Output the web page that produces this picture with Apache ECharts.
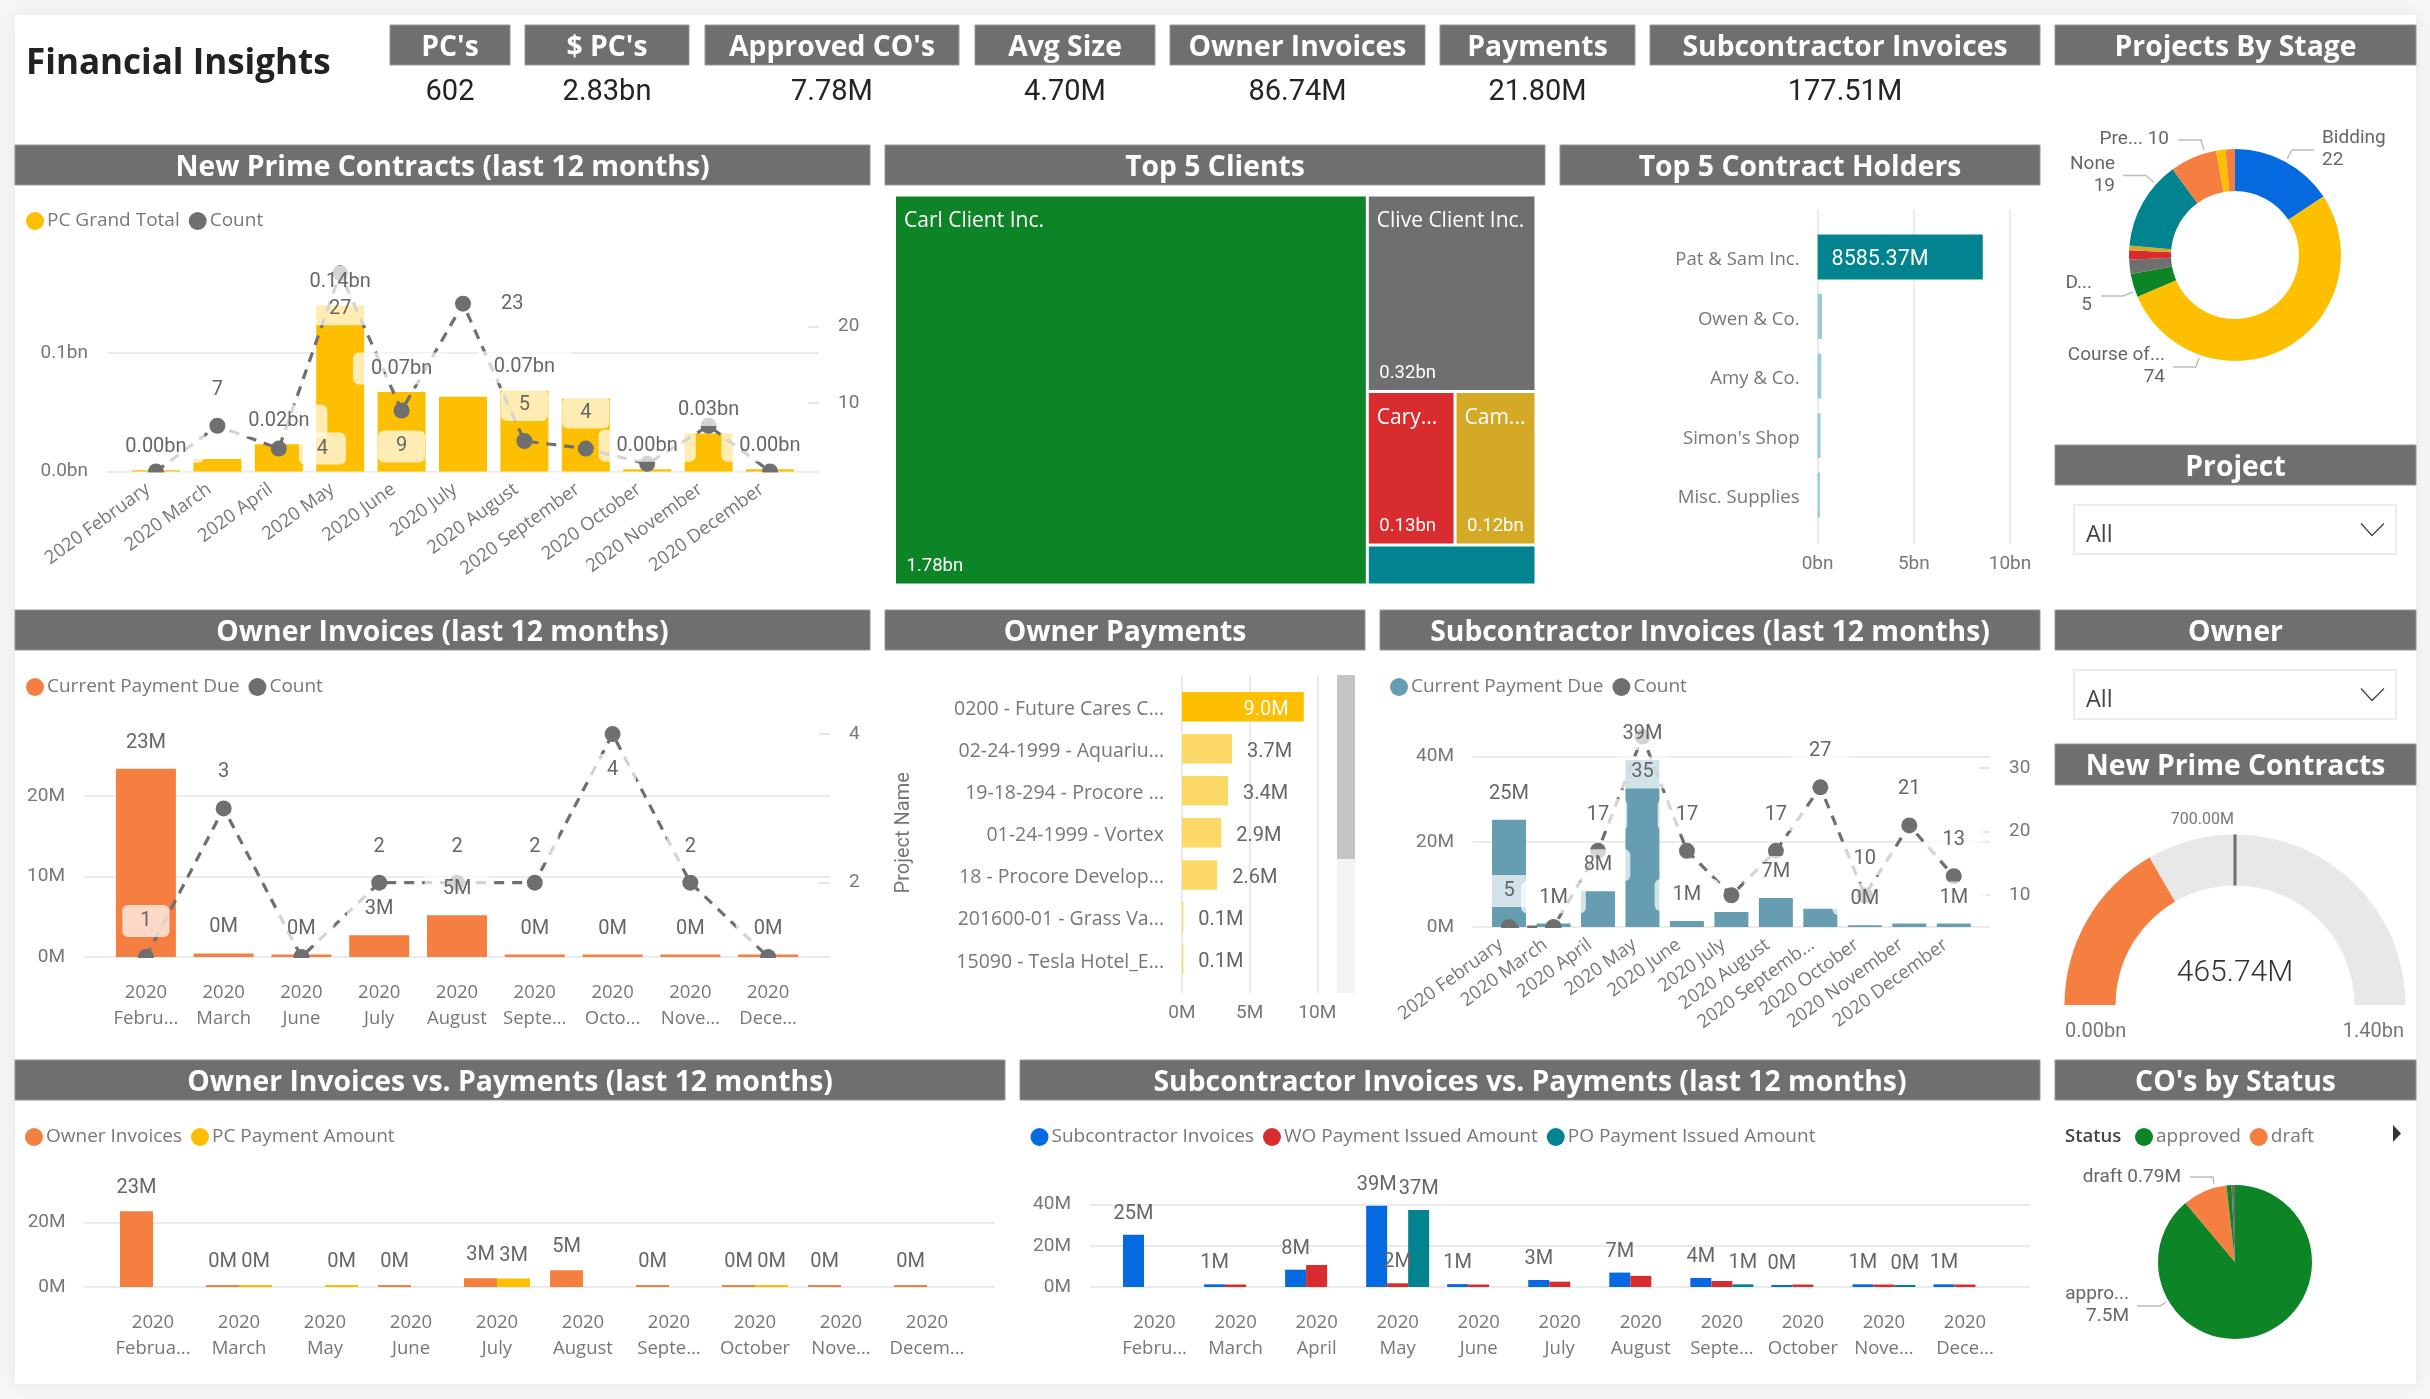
<!DOCTYPE html>
<html>
<head>
<meta charset="UTF-8">
<title>Financial Insights</title>
<script src="https://cdn.jsdelivr.net/npm/echarts@6/dist/echarts.min.js"></script>
<style>
html, body { margin: 0; padding: 0; background: #f6f6f6; }
#card { position: absolute; left: 15px; top: 15px; width: 2401px; height: 1369px; background: #fff; box-shadow: 0 0 14px rgba(0,0,0,.07); }
#main { position: absolute; left: 0; top: 0; width: 2430px; height: 1399px; }
</style>
</head>
<body>
<div id="card"></div>
<div id="main"></div>
<script type="text/javascript">
// --- data ---
var kpiNames = ["PC's", "$ PC's", "Approved CO's", "Avg Size", "Owner Invoices", "Payments", "Subcontractor Invoices"];
var kpiValues = ["602", "2.83bn", "7.78M", "4.70M", "86.74M", "21.80M", "177.51M"];

var primeMonths = ['2020 February', '2020 March', '2020 April', '2020 May', '2020 June', '2020 July', '2020 August', '2020 September', '2020 October', '2020 November', '2020 December'];
var primeTotal = [0.001, 0.0106, 0.023, 0.14, 0.067, 0.063, 0.068, 0.0615, 0.002, 0.032, 0.002];
var primeCount = [1, 7, 4, 27, 9, 23, 5, 4, 2, 7, 1];

var ownerMonths = ['2020\nFebru...', '2020\nMarch', '2020\nJune', '2020\nJuly', '2020\nAugust', '2020\nSepte...', '2020\nOcto...', '2020\nNove...', '2020\nDece...'];
var ownerDue = [23.4, 0.45, 0.3, 2.7, 5.2, 0.3, 0.3, 0.3, 0.3];
var ownerCount = [1, 3, 1, 2, 2, 2, 4, 2, 1];

var subMonths = ['2020 February', '2020 March', '2020 April', '2020 May', '2020 June', '2020 July', '2020 August', '2020 Septemb...', '2020 October', '2020 November', '2020 December'];
var subDue = [25.2, 0.8, 8.4, 39.2, 1.4, 3.5, 6.8, 4.3, 0.4, 0.8, 0.8];
var subCount = [5, 5, 17, 35, 17, 10, 17, 27, 10, 21, 13];

var ovMonths = ['2020\nFebrua...', '2020\nMarch', '2020\nMay', '2020\nJune', '2020\nJuly', '2020\nAugust', '2020\nSepte...', '2020\nOctober', '2020\nNove...', '2020\nDecem...'];
var ovInvoices = [23.4, 0.35, null, 0.35, 2.7, 5.2, 0.35, 0.35, 0.35, 0.35];
var ovPayments = [null, 0.35, 0.35, null, 2.6, null, null, 0.35, null, null];

var svMonths = ['2020\nFebru...', '2020\nMarch', '2020\nApril', '2020\nMay', '2020\nJune', '2020\nJuly', '2020\nAugust', '2020\nSepte...', '2020\nOctober', '2020\nNove...', '2020\nDece...'];
var svInvoices = [25.4, 1.3, 8.4, 39.4, 1.4, 3.4, 7, 4.4, 0.4, 1.3, 1.3];
var svWo = [null, 1.2, 10.7, 1.8, 1.2, 2.6, 5.4, 2.9, 1.2, 1.2, 1.2];
var svPo = [null, null, null, 37.4, null, null, null, 1.3, null, 0.4, null];

var clientNames = ['Carl Client Inc.', 'Clive Client Inc.', 'Cary...', 'Cam...', ''];
var clientValues = [1.78, 0.32, 0.13, 0.12, 0.065];

var holderNames = ['Pat & Sam Inc.', 'Owen & Co.', 'Amy & Co.', "Simon's Shop", 'Misc. Supplies'];
var holderValues = [8.58537, 0.23, 0.19, 0.15, 0.12];

var paymentNames = ['0200 - Future Cares C...', '02-24-1999 - Aquariu...', '19-18-294 - Procore ...', '01-24-1999 - Vortex', '18 - Procore Develop...', '201600-01 - Grass Va...', '15090 - Tesla Hotel_E...'];
var paymentValues = [9.0, 3.7, 3.4, 2.9, 2.6, 0.1, 0.1];

var stageNames = ['Bidding', 'Course of...', 'D...', 'Stage 4', 'Stage 5', 'Stage 6', 'None', 'Pre...', 'Stage 9', 'Stage 10'];
var stageValues = [22, 74, 5, 3, 2, 1, 19, 10, 2, 2];

var statusNames = ['approved', 'draft', 'other', 'blank'];
var statusValues = [7.5, 0.79, 0.09, 0.06];

var gaugeValue = 465.74;
var gaugeTarget = 700;
var gaugeMax = 1400;

// --- where labels go, by category position ---
var primeTotalLabels = [1, 0, 1, 1, 1, 0, 1, 0, 1, 1, 1];
var primeCountPos = [null, 'top', 'right', 'bottom', 'bottom', 'right', 'top', 'top', null, null, null];
var ownerCountPos = ['top', 'top', null, 'top', 'top', 'top', 'bottom', 'top', null];
var subDueLabels = [1, 1, 1, 1, 1, 0, 1, 0, 1, 0, 1];
var subCountPos = ['top', null, 'top', 'bottom', 'top', null, 'top', 'top', 'top', 'top', 'top'];
var svWoLabels = [0, 0, 0, 1, 0, 0, 0, 0, 0, 0, 0];

// pie callouts: label anchor and leader line on the page
var stageCallouts = {
	0: { x: 2322, y: 149, align: 'left', line: [[2287, 159], [2292, 150], [2314, 150]] },
	1: { x: 2165, y: 366, align: 'right', line: [[2199, 358], [2196, 367], [2173, 367]] },
	2: { x: 2092, y: 294, align: 'right', line: [[2133, 292], [2123, 296], [2101, 296]] },
	6: { x: 2115, y: 175.5, align: 'right', line: [[2154, 182.5], [2146, 175.5], [2123, 175.5]] },
	7: { x: 2169, y: 139, align: 'right', line: [[2204, 150], [2201, 140], [2178, 140]] }
};
var statusCallouts = {
	0: { x: 2129, y: 1305, align: 'right', line: [[2166, 1302], [2160, 1306], [2137, 1306]] },
	1: { x: 2181, y: 1177, align: 'right', line: [[2214, 1184], [2213, 1177], [2190, 1177]] }
};

// --- colours ---
var C_YELLOW = '#fdbf00', C_ORANGE = '#f57f40', C_SLATE = '#669db1', C_GRAY = '#6f6f6f';
var C_BLUE = '#0569e0', C_RED = '#d92c2f', C_TEAL = '#018390', C_GREEN = '#0d8526', C_GOLD = '#d4a925';
var TXT = '#777777', LBL = '#666666', GRID = '#ebebeb';
var NUM_FONT = 'Roboto', TXT_FONT = '"Open Sans"';

var option = {
	animation: false,
	grid: [], xAxis: [], yAxis: [], legend: [], series: [],
	graphic: { elements: [] }
};
var gfx = option.graphic.elements;

function text(x, y, str, size, color, font, align, weight) {
	gfx.push({ type: 'text', x: x, y: y, silent: true, z: 5, style: {
		text: str, fontSize: size, fill: color, fontFamily: font || NUM_FONT,
		fontWeight: weight || 'normal', align: align || 'center', verticalAlign: 'middle' } });
}

function band(x0, y0, x1, y1, title) {
	gfx.push({ type: 'rect', silent: true, shape: { x: x0, y: y0, width: x1 - x0, height: y1 - y0 },
		style: { fill: C_GRAY, stroke: '#969696', lineWidth: 1 } });
	text((x0 + x1) / 2, (y0 + y1) / 2 + 2.5, title, 28.3, '#fff', TXT_FONT, 'center', 'bold');
}

function slicer(y0, y1) {
	gfx.push({ type: 'rect', silent: true, shape: { x: 2074, y: y0, width: 322, height: y1 - y0 },
		style: { fill: '#fff', stroke: '#ececec', lineWidth: 2 } });
	text(2086, (y0 + y1) / 2 + 6, 'All', 23.5, '#444', TXT_FONT, 'left');
	var m = (y0 + y1) / 2 - 1;
	gfx.push({ type: 'polyline', silent: true, shape: { points: [[2361, m - 5], [2372, m + 7], [2384, m - 5]] },
		style: { fill: null, stroke: '#444', lineWidth: 1.3 } });
}

function addLegend(left, y, items) {
	option.legend.push({
		left: left, top: y - 8.5, padding: 0, itemWidth: 18, itemHeight: 18, itemGap: 9, icon: 'circle', selectedMode: false,
		textStyle: { fontFamily: TXT_FONT, fontSize: 19, color: TXT, padding: [0, 0, 0, -2] },
		data: items.map(function (it) { return { name: it[0], icon: 'circle', itemStyle: { color: it[1] } }; })
	});
}

function washLabel(fmt, dist) {
	return { show: true, position: 'top', distance: dist, formatter: fmt, fontFamily: NUM_FONT, fontSize: 20, color: LBL,
		lineHeight: 24, padding: [4, 18], backgroundColor: 'rgba(255,255,255,0.7)', borderRadius: 6 };
}

function plainLabel(fmt, dist) {
	return { show: true, position: 'top', distance: dist, formatter: fmt, fontFamily: NUM_FONT, fontSize: 20, color: LBL, lineHeight: 24 };
}

function labelledData(values, shown) {
	return values.map(function (v, i) {
		if (v === null) return null;
		return { value: v, label: { show: !shown || !!shown[i] } };
	});
}

// Two grids per chart: the wide one carries gridlines and value axes,
// the narrower one holds the bands, as the gridlines overhang the first and last band.
function addCombo(c) {
	var wide = option.grid.length, inner = wide + 1, h = c.base - c.top;
	option.grid.push({ left: c.left, top: c.top, width: c.right - c.left, height: h });
	option.grid.push({ left: c.bandLeft, top: c.top, width: c.bandRight - c.bandLeft, height: h });

	option.xAxis.push({ gridIndex: wide, type: 'value', show: false, min: 0, max: 1 });
	var xIndex = option.xAxis.length;
	option.xAxis.push({ gridIndex: inner, type: 'category', data: c.cats, z: 4,
		axisLine: { show: false }, axisTick: { show: false },
		axisLabel: { interval: 0, rotate: c.rotate || 0, margin: c.rotate ? 10 : 23, lineHeight: 26,
			padding: c.rotate ? [0, 10, 0, 0] : 0,
			fontFamily: TXT_FONT, fontSize: 18.5, color: TXT, hideOverlap: false, overflow: 'none' } });

	option.yAxis.push({ gridIndex: wide, type: 'value', min: 0, max: c.max,
		axisLine: { show: false },
		axisTick: { show: false, customValues: c.ticks },
		splitLine: { show: true, lineStyle: { color: GRID, width: 2 } },
		axisLabel: { customValues: c.ticks, margin: 19, formatter: c.tickFmt, fontFamily: NUM_FONT, fontSize: 19, color: TXT } });
	var yIndex = option.yAxis.length;
	option.yAxis.push({ gridIndex: inner, type: 'value', show: false, min: 0, max: c.max, splitLine: { show: false } });

	c.bars.forEach(function (s) {
		option.series.push({ type: 'bar', name: s.name, xAxisIndex: xIndex, yAxisIndex: yIndex, z: 2,
			barWidth: c.barWidth, barGap: c.count ? '-100%' : 0, barMinHeight: c.minHeight || 0,
			itemStyle: { color: s.color },
			label: c.count ? { show: false } : plainLabel(c.labelFmt, c.labelDist),
			data: c.count ? s.data : labelledData(s.data, s.shown) });
		if (c.count) {
			// the bar labels sit on top of the count line, so they get a see-through series above it
			option.series.push({ type: 'bar', xAxisIndex: xIndex, yAxisIndex: yIndex, z: 5, silent: true,
				barWidth: c.barWidth, barGap: '-100%',
				itemStyle: { color: 'rgba(0,0,0,0)' },
				label: washLabel(c.labelFmt, c.labelDist),
				data: labelledData(s.data, s.shown) });
		}
	});

	if (c.count) {
		option.yAxis.push({ gridIndex: wide, type: 'value', position: 'right', min: c.countMin, max: c.countMax,
			axisLine: { show: false }, splitLine: { show: false },
			axisTick: { show: true, inside: true, length: 11, customValues: c.countTicks, lineStyle: { color: '#e6e6e6', width: 2 } },
			axisLabel: { customValues: c.countTicks, margin: 19, fontFamily: NUM_FONT, fontSize: 19, color: TXT } });
		var y2Index = option.yAxis.length;
		option.yAxis.push({ gridIndex: inner, type: 'value', show: false, min: c.countMin, max: c.countMax, splitLine: { show: false } });
		option.series.push({ type: 'line', name: 'Count', xAxisIndex: xIndex, yAxisIndex: y2Index, z: 2,
			symbol: 'circle', symbolSize: 16, showAllSymbol: true,
			itemStyle: { color: C_GRAY },
			lineStyle: { color: C_GRAY, width: 3.2, type: [10, 8] },
			data: c.count.map(function (v, i) {
				var pos = c.countPos[i];
				var lab = washLabel('{c}', 12);
				lab.show = !!pos;
				lab.position = pos || 'top';
				return { value: v, label: lab };
			}) });
		// markers stop at the baseline in the original
		gfx.push({ type: 'rect', silent: true, z: 3, shape: { x: c.bandLeft, y: c.base + 1, width: c.bandRight - c.bandLeft, height: 9 },
			style: { fill: '#fff' } });
	}
}

function addHBar(c) {
	var wide = option.grid.length, inner = wide + 1;
	option.grid.push({ left: c.left, top: c.top, width: c.right - c.left, height: c.bottom - c.top });
	option.grid.push({ left: c.left, top: c.bandTop, width: c.right - c.left, height: c.bandBottom - c.bandTop });
	option.yAxis.push({ gridIndex: wide, type: 'value', show: false, min: 0, max: 1 });
	option.xAxis.push({ gridIndex: wide, type: 'value', min: 0, max: 10, interval: 5,
		axisLine: { show: false }, axisTick: { show: false },
		splitLine: { show: true, lineStyle: { color: GRID, width: 2 } },
		axisLabel: { margin: 11, formatter: c.tickFmt, fontFamily: NUM_FONT, fontSize: 19, color: TXT } });
	var xIndex = option.xAxis.length;
	option.xAxis.push({ gridIndex: inner, type: 'value', show: false, min: 0, max: 10, splitLine: { show: false } });
	var yIndex = option.yAxis.length;
	option.yAxis.push({ gridIndex: inner, type: 'category', inverse: true, data: c.cats,
		name: c.axisName, nameLocation: 'middle', nameGap: c.nameGap,
		nameTextStyle: { fontFamily: NUM_FONT, fontSize: 20, color: TXT, letterSpacing: 1.5 },
		axisLine: { show: false }, axisTick: { show: false },
		// a short line box hung from the band centre drops the text about 3px, as in the original
		axisLabel: { interval: 0, margin: 18, verticalAlign: 'top', lineHeight: 6, fontFamily: TXT_FONT, fontSize: c.catSize, color: TXT } });
	option.series.push({ type: 'bar', xAxisIndex: xIndex, yAxisIndex: yIndex, barWidth: c.barWidth,
		data: c.values.map(function (v, i) {
			return { value: v, itemStyle: { color: i === 0 ? c.color : c.paleColor }, label: c.label(i) };
		}) });
}

function leaderLines(callouts) {
	Object.keys(callouts).forEach(function (k) {
		gfx.push({ type: 'polyline', silent: true, z: 4, shape: { points: callouts[k].line },
			style: { fill: null, stroke: '#bdbdbd', lineWidth: 1.5 } });
	});
}

function calloutLayout(callouts) {
	return function (p) {
		var c = callouts[p.dataIndex];
		if (c) return { x: c.x, y: c.y, align: c.align, verticalAlign: 'middle' };
	};
}

// --- page furniture ---
text(26, 64, 'Financial Insights', 35, '#222', TXT_FONT, 'left', 'bold');

var kpiSpans = [[390, 510], [525, 689], [705, 959], [975, 1155], [1170, 1425], [1440, 1635], [1650, 2040]];
kpiNames.forEach(function (n, i) {
	band(kpiSpans[i][0], 25, kpiSpans[i][1], 65, n);
	text((kpiSpans[i][0] + kpiSpans[i][1]) / 2, 93, kpiValues[i], 29, '#252423');
});
band(2055, 25, 2416, 65, 'Projects By Stage');
band(15, 145, 870, 185, 'New Prime Contracts (last 12 months)');
band(885, 145, 1545, 185, 'Top 5 Clients');
band(1560, 145, 2040, 185, 'Top 5 Contract Holders');
band(2055, 445, 2416, 485, 'Project');
band(15, 610, 870, 650, 'Owner Invoices (last 12 months)');
band(885, 610, 1365, 650, 'Owner Payments');
band(1380, 610, 2040, 650, 'Subcontractor Invoices (last 12 months)');
band(2055, 610, 2416, 650, 'Owner');
band(2055, 744, 2416, 785, 'New Prime Contracts');
band(15, 1060, 1005, 1100, 'Owner Invoices vs. Payments (last 12 months)');
band(1020, 1060, 2040, 1100, 'Subcontractor Invoices vs. Payments (last 12 months)');
band(2055, 1060, 2416, 1100, "CO's by Status");
slicer(505, 554);
slicer(670, 719);

// --- combo charts ---
function fmtBn(p) { return p.value.toFixed(2) + 'bn'; }
function fmtM(p) { return p.value.toFixed(0) + 'M'; }
function tickM(v) { return v + 'M'; }

addLegend(26, 220, [['PC Grand Total', C_YELLOW], ['Count', C_GRAY]]);
addCombo({ left: 107, right: 819, bandLeft: 125.3, bandRight: 800.7, top: 234.3, base: 471.5, max: 0.2,
	ticks: [0, 0.1], tickFmt: function (v) { return v.toFixed(1) + 'bn'; },
	cats: primeMonths, rotate: 36, barWidth: 48, labelFmt: fmtBn, labelDist: 7.5,
	bars: [{ name: 'PC Grand Total', color: C_YELLOW, data: primeTotal, shown: primeTotalLabels }],
	count: primeCount, countPos: primeCountPos, countMin: 1, countMax: 32.1, countTicks: [10, 20] });

addLegend(26, 686, [['Current Payment Due', C_ORANGE], ['Count', C_GRAY]]);
addCombo({ left: 84, right: 830, bandLeft: 107, bandRight: 807, top: 715.5, base: 957, max: 30,
	ticks: [0, 10, 20], tickFmt: tickM,
	cats: ownerMonths, barWidth: 60, labelFmt: fmtM, labelDist: 10,
	bars: [{ name: 'Current Payment Due', color: C_ORANGE, data: ownerDue }],
	count: ownerCount, countPos: ownerCountPos, countMin: 1, countMax: 4.25, countTicks: [2, 4] });

addLegend(1390, 686, [['Current Payment Due', C_SLATE], ['Count', C_GRAY]]);
addCombo({ left: 1473, right: 1990, bandLeft: 1486.8, bandRight: 1976, top: 714, base: 927, max: 50,
	ticks: [0, 20, 40], tickFmt: tickM,
	cats: subMonths, rotate: 36, barWidth: 34, labelFmt: fmtM, labelDist: 10,
	bars: [{ name: 'Current Payment Due', color: C_SLATE, data: subDue, shown: subDueLabels }],
	count: subCount, countPos: subCountPos, countMin: 5, countMax: 38.54, countTicks: [10, 20, 30] });

addLegend(25, 1136, [['Owner Invoices', C_ORANGE], ['PC Payment Amount', C_YELLOW]]);
addCombo({ left: 84.6, right: 995, bandLeft: 110, bandRight: 970, top: 1190, base: 1287, max: 30,
	ticks: [0, 20], tickFmt: tickM,
	cats: ovMonths, barWidth: 33, minHeight: 2, labelFmt: fmtM, labelDist: 11,
	bars: [{ name: 'Owner Invoices', color: C_ORANGE, data: ovInvoices },
		{ name: 'PC Payment Amount', color: C_YELLOW, data: ovPayments }] });

addLegend(1030.5, 1136, [['Subcontractor Invoices', C_BLUE], ['WO Payment Issued Amount', C_RED], ['PO Payment Issued Amount', C_TEAL]]);
addCombo({ left: 1090, right: 2030, bandLeft: 1114, bandRight: 2005.5, top: 1184, base: 1287, max: 50,
	ticks: [0, 20, 40], tickFmt: tickM,
	cats: svMonths, barWidth: 21, minHeight: 2, labelFmt: fmtM, labelDist: 9,
	bars: [{ name: 'Subcontractor Invoices', color: C_BLUE, data: svInvoices },
		{ name: 'WO Payment Issued Amount', color: C_RED, data: svWo, shown: svWoLabels },
		{ name: 'PO Payment Issued Amount', color: C_TEAL, data: svPo }] });

// --- horizontal bars ---
addHBar({ left: 1817.6, right: 2010, top: 210, bottom: 544, bandTop: 227.3, bandBottom: 524.8, barWidth: 45, catSize: 18.6,
	cats: holderNames, values: holderValues, color: C_TEAL, paleColor: '#99cdd3',
	tickFmt: function (v) { return v + 'bn'; },
	label: function (i) {
		return { show: i === 0, position: 'insideLeft', distance: 14, verticalAlign: 'top', lineHeight: 6, color: '#fff', fontFamily: NUM_FONT, fontSize: 21.5,
			formatter: function (p) { return (p.value * 1000).toFixed(2) + 'M'; } };
	} });

addHBar({ left: 1182, right: 1317.3, top: 675, bottom: 993, bandTop: 685.7, bandBottom: 980, barWidth: 29.5, catSize: 19.5,
	cats: paymentNames, values: paymentValues, color: C_YELLOW, paleColor: '#fcd966',
	axisName: 'Project Name', nameGap: 268, tickFmt: tickM,
	label: function (i) {
		return { show: true, position: i === 0 ? 'insideRight' : 'right', distance: 15, verticalAlign: 'top', lineHeight: 6, color: i === 0 ? '#fff' : LBL,
			fontFamily: NUM_FONT, fontSize: 20, formatter: function (p) { return p.value.toFixed(1) + 'M'; } };
	} });
gfx.push({ type: 'rect', silent: true, shape: { x: 1337, y: 675, width: 18, height: 318 }, style: { fill: '#f4f4f4' } });
gfx.push({ type: 'rect', silent: true, shape: { x: 1337, y: 675, width: 18, height: 184 }, style: { fill: '#c4c4c4' } });

// --- top clients: one treemap for names, an identical see-through one for the values ---
var clientColors = [C_GREEN, C_GRAY, C_RED, C_GOLD, C_TEAL];
function clientNodes(fill) {
	return clientValues.map(function (v, i) {
		return { name: clientNames[i], value: v, itemStyle: { color: fill || clientColors[i] } };
	});
}
function clientMap(nodes, label) {
	return { type: 'treemap', left: 896, top: 196.5, width: 638.5, height: 387, roam: false, nodeClick: false,
		breadcrumb: { show: false }, silent: true, itemStyle: { gapWidth: 3, borderWidth: 0 },
		label: label, data: nodes };
}
option.series.push(clientMap(clientNodes(), { show: true, position: 'insideTopLeft', distance: 6, padding: [8, 0, 0, 2],
	formatter: '{b}', color: '#fff', fontFamily: TXT_FONT, fontSize: 21 }));
option.series.push(clientMap(clientNodes('rgba(0,0,0,0)'), { show: true, position: 'insideBottomLeft', distance: 5.5, lineHeight: 13,
	formatter: function (p) { return p.value >= 0.1 ? p.value.toFixed(2) + 'bn' : ''; },
	color: '#fff', fontFamily: NUM_FONT, fontSize: 18.5 }));

// --- projects by stage ---
var stageColors = [C_BLUE, C_YELLOW, C_GREEN, C_GRAY, C_RED, C_GOLD, C_TEAL, C_ORANGE, C_YELLOW, C_ORANGE];
option.series.push({ type: 'pie', center: [2235, 255], radius: [64, 106], avoidLabelOverlap: false,
	label: { fontFamily: NUM_FONT, fontSize: 19, color: LBL, lineHeight: 22 },
	labelLine: { show: false },
	labelLayout: calloutLayout(stageCallouts),
	data: stageValues.map(function (v, i) {
		return { name: stageNames[i], value: v, itemStyle: { color: stageColors[i] },
			label: { show: !!stageCallouts[i], formatter: stageNames[i] === 'Pre...' ? '{b} {c}' : '{b}\n{c}' } };
	}) });
leaderLines(stageCallouts);

// --- gauge ---
option.series.push({ type: 'gauge', center: [2235, 1005], radius: 170.5, startAngle: 180, endAngle: 0, min: 0, max: gaugeMax,
	axisLine: { lineStyle: { width: 51, color: [[1, '#e8e8e8']] } },
	progress: { show: true, width: 51, itemStyle: { color: C_ORANGE } },
	pointer: { show: false }, axisTick: { show: false }, splitLine: { show: false }, axisLabel: { show: false }, title: { show: false },
	detail: { offsetCenter: [0, -32], formatter: function (v) { return v.toFixed(2) + 'M'; }, fontFamily: NUM_FONT, fontWeight: 300, fontSize: 30, color: '#333' },
	data: [{ value: gaugeValue }] });
option.series.push({ type: 'gauge', center: [2235, 1005], radius: 170.5, startAngle: 180, endAngle: 0, min: 0, max: gaugeMax, z: 4,
	axisLine: { show: false }, progress: { show: false },
	pointer: { show: true, icon: 'rect', length: 51, width: 3, offsetCenter: [0, -119.5], itemStyle: { color: C_GRAY } },
	anchor: { show: false }, axisTick: { show: false }, splitLine: { show: false }, axisLabel: { show: false }, title: { show: false }, detail: { show: false },
	data: [{ value: gaugeTarget }] });
text(2234, 820, gaugeTarget.toFixed(2) + 'M', 16, TXT, NUM_FONT, 'right');
text(2065, 1032, (0).toFixed(2) + 'bn', 20, TXT, NUM_FONT, 'left');
text(2404, 1032, (gaugeMax / 1000).toFixed(2) + 'bn', 20, TXT, NUM_FONT, 'right');

// --- CO's by status ---
var statusColors = [C_GREEN, C_ORANGE, C_GREEN, C_GRAY];
text(2065, 1137, 'Status', 18.5, '#444', TXT_FONT, 'left', 600);
addLegend(2135, 1136, [['approved', C_GREEN], ['draft', C_ORANGE]]);
gfx.push({ type: 'polygon', silent: true, shape: { points: [[2393, 1125], [2401, 1133.5], [2393, 1142]] }, style: { fill: '#333' } });
option.series.push({ type: 'pie', center: [2235, 1262], radius: 77, avoidLabelOverlap: false,
	label: { fontFamily: NUM_FONT, fontSize: 19, color: LBL, lineHeight: 22 },
	labelLine: { show: false },
	labelLayout: calloutLayout(statusCallouts),
	data: statusValues.map(function (v, i) {
		return { name: statusNames[i], value: v, itemStyle: { color: statusColors[i] },
			label: { show: i < 2, formatter: i === 0 ? 'appro...\n' + v + 'M' : '{b} ' + v + 'M' } };
	}) });
leaderLines(statusCallouts);

var myChart = echarts.init(document.getElementById('main'));
myChart.setOption(option);
</script>
</body>
</html>
